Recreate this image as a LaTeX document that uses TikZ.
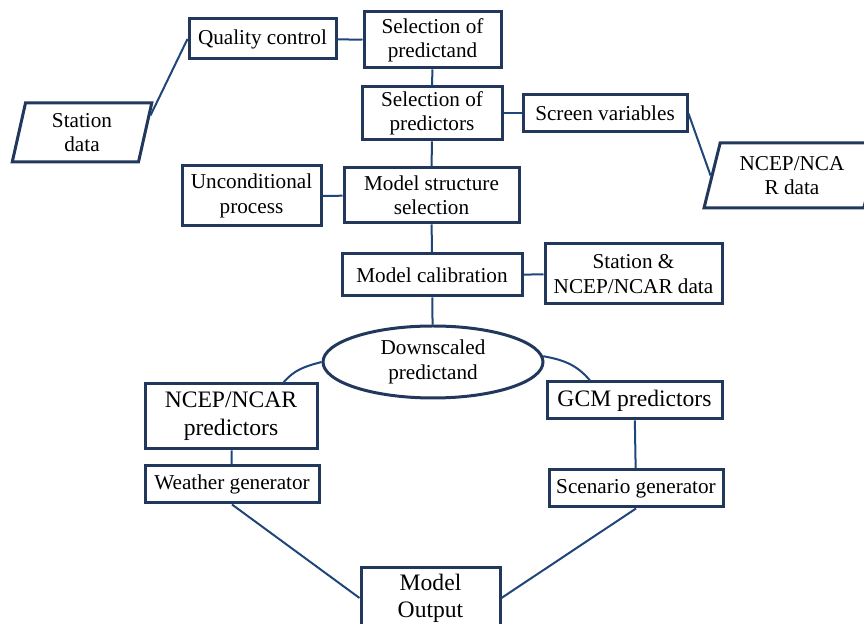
\documentclass[tikz,border=0pt]{standalone}
\usepackage{fontspec}
\setmainfont{Liberation Serif}
\usetikzlibrary{shapes.geometric,calc}
\definecolor{boxc}{RGB}{33,56,92}
\definecolor{linec}{RGB}{31,70,122}
\tikzset{box/.style={draw=boxc, line width=1.5pt, inner sep=1pt, align=center, font=\fontsize{10.6}{12.2}\selectfont},
  big/.style={font=\fontsize{11.8}{14}\selectfont},
  pbox/.style={box, trapezium, trapezium stretches=true},
  link/.style={draw=linec, line width=1pt}}

\begin{document}
\begin{tikzpicture}[x=0.5pt, y=-0.5pt]
  \useasboundingbox (0,0) rectangle (864,624);
  \clip (0,0) rectangle (864,624);
  \node[box, minimum width=73.5pt, minimum height=20pt] (qc) at (262.5,39) {Quality control};
  \node[box, minimum width=68.5pt, minimum height=28pt] (pdand) at (432.5,40) {Selection of\\predictand};
  \node[box, minimum width=70pt, minimum height=26.5pt] (pdtors) at (432,113.5) {Selection of\\predictors};
  \node[box, minimum width=82pt, minimum height=18.5pt] (scr) at (605,113.5) {Screen variables};
  \node[pbox, trapezium left angle=80, trapezium right angle=100, minimum width=70pt, minimum height=29.5pt] (stn) at (82,132.5) {Station\\data};
  \node[pbox, trapezium left angle=74, trapezium right angle=106, minimum width=88pt, minimum height=32.5pt] (ncep) at (792,175.5) {NCEP/NCA\\R data};
  \node[box, minimum width=69.5pt, minimum height=30pt] (unc) at (251.5,196) {Unconditional\\process};
  \node[box, minimum width=87.5pt, minimum height=27.5pt] (mss) at (431.5,195.5) {Model structure\\selection};
  \node[box, minimum width=90pt, minimum height=21pt] (cal) at (432,275) {Model calibration};
  \node[box, minimum width=88.5pt, minimum height=30pt] (snd) at (633.5,274) {Station \&\\NCEP/NCAR data};
  \node[box, ellipse, inner sep=0pt, minimum width=110pt, minimum height=36pt] (down) at (433,362) {Downscaled\\predictand};
  \node[box, big, minimum width=86pt, minimum height=32.5pt] (ncpred) at (231,416.5) {NCEP/NCAR\\predictors};
  \node[box, minimum width=87pt, minimum height=18.5pt] (wgen) at (232,484.5) {Weather generator};
  \node[box, big, minimum width=87.5pt, minimum height=18.5pt] (gcm) at (634.5,400.5) {GCM predictors};
  \node[box, minimum width=87pt, minimum height=18.5pt] (sgen) at (636,488.5) {Scenario generator};
  \node[box, big, minimum width=69.5pt, minimum height=30pt, font=\fontsize{11.8}{13.5}\selectfont] (out) at (430.5,598) {Model\\Output};
  % connectors
  \draw[link] (stn.14) -- (qc.west);
  \draw[link] (qc) -- (pdand);
  \draw[link] (pdand) -- (pdtors);
  \draw[link] (pdtors) -- (scr);
  \draw[link] (scr.east) -- (ncep.west);
  \draw[link] (pdtors) -- (mss);
  \draw[link] (unc) -- (mss);
  \draw[link] (mss) -- (cal);
  \draw[link] (cal) -- (snd);
  \draw[link] (cal) -- (down);
  \draw[link] (down.west) to[out=195, in=50] ($(ncpred.north)!0.6!(ncpred.north east)$);
  \draw[link] (down.3) to[out=-10, in=130] ($(gcm.north west)!0.5!(gcm.north)$);
  \draw[link] (ncpred) -- (wgen);
  \draw[link] (gcm) -- (sgen);
  \draw[link] (wgen.south) -- (out.west);
  \draw[link] (sgen.south) -- (out.east);
\end{tikzpicture}
\end{document}
